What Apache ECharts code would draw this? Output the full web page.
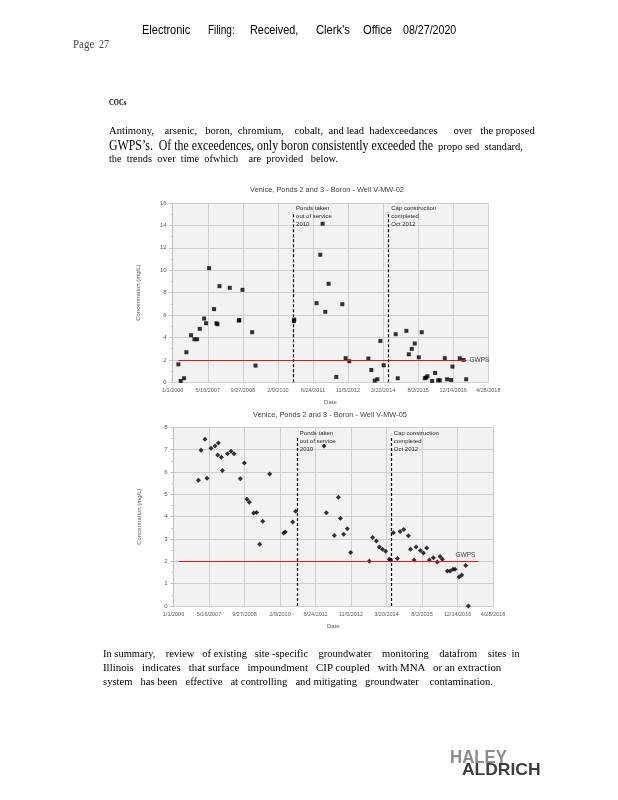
<!DOCTYPE html>
<html>
<head>
<meta charset="utf-8">
<script src="https://cdn.jsdelivr.net/npm/echarts@6/dist/echarts.min.js"></script>
<style>
  html, body { margin: 0; padding: 0; background: #fff; }
  body { width: 618px; height: 800px; position: relative; overflow: hidden; }
  #chart { position: absolute; left: 0; top: 0; width: 618px; height: 800px; }
  .t { position: absolute; white-space: pre; line-height: 1; transform-origin: 0 50%; }
</style>
</head>
<body>
<div id="chart"></div>
<script>
// ---------------- data ----------------
const axisStart = '2006-01-01';
const tickDays = 500;
const tickCount = 9;
const gwps = 2;

const mw02Title = 'Venice, Ponds 2 and 3 - Boron - Well V-MW-02';
const mw02Dates = ['2006-03-23','2006-04-25','2006-06-12','2006-07-15','2006-09-20','2006-11-07','2006-12-15',
  '2007-01-22','2007-03-25','2007-04-22','2007-06-04','2007-08-14','2007-09-17','2007-10-01','2007-10-30',
  '2008-03-25','2008-08-01','2008-08-08','2008-09-22','2009-02-07','2009-03-27','2010-09-25','2010-09-30',
  '2011-08-15','2011-10-07','2011-11-09','2011-12-17','2012-02-03','2012-05-22','2012-08-16','2012-10-03',
  '2012-11-24','2013-08-23','2013-10-04','2013-11-21','2013-12-29','2014-02-10','2014-03-30','2014-09-17',
  '2014-10-16','2015-02-16','2015-03-22','2015-05-04','2015-06-15','2015-08-12','2015-09-23','2015-11-05',
  '2015-11-24','2015-12-13','2016-02-18','2016-04-01','2016-05-14','2016-06-07','2016-08-17','2016-09-19',
  '2016-11-15','2016-12-04','2017-03-19','2017-05-11','2017-06-18'];
const mw02Boron = [1.6,0.12,0.36,2.68,4.2,3.84,3.84,
  4.77,5.69,5.27,10.19,6.53,5.27,5.18,8.58,
  8.43,5.51,5.55,8.25,4.47,1.49,5.45,5.6,
  7.06,11.38,14.15,6.29,8.79,0.48,6.97,2.15,
  1.88,2.12,1.1,0.15,0.27,3.69,1.52,4.29,
  0.36,4.59,2.5,2.98,3.46,2.23,4.47,0.36,
  0.42,0.54,0.12,0.83,0.18,0.18,2.15,0.27,
  0.21,1.4,2.15,2.0,0.27];
const mw02Gwps = ['2006-03-23','2017-06-22'];
const mw02Events = ['2010-09-21','2014-06-09'];

const mw05Title = 'Venice, Ponds 2 and 3 - Boron - Well V-MW-05';
const mw05Dates = ['2006-12-17','2007-01-23','2007-03-21','2007-04-18','2007-06-13','2007-08-09','2007-09-15',
  '2007-09-25','2007-11-06','2007-11-20','2008-01-30','2008-03-21','2008-05-02','2008-07-30','2008-09-25',
  '2008-11-01','2008-12-04','2009-02-03','2009-03-17','2009-04-29','2009-06-10','2009-09-17','2010-04-02',
  '2010-04-25','2010-08-07','2010-09-17','2011-10-22','2011-11-24','2012-03-16','2012-05-11','2012-06-08',
  '2012-07-25','2012-09-14','2012-10-31','2013-07-21','2013-09-06','2013-10-28','2013-12-09','2014-01-21',
  '2014-03-08','2014-04-29','2014-05-18','2014-06-25','2014-08-20','2014-09-27','2014-11-18','2015-01-22',
  '2015-02-20','2015-04-12','2015-05-10','2015-07-10','2015-08-22','2015-10-07','2015-11-14','2016-01-09',
  '2016-03-05','2016-04-12','2016-05-15','2016-07-24','2016-08-31','2016-10-12','2016-11-09','2017-01-04',
  '2017-02-11','2017-04-09','2017-05-16'];
const mw05Boron = [5.63,6.97,7.46,5.72,7.06,7.16,6.76,
  7.3,6.66,6.07,6.82,6.93,6.82,5.7,6.4,
  4.78,4.64,4.16,4.19,2.76,3.79,5.91,3.27,
  3.31,3.76,4.24,7.16,4.18,3.16,4.87,3.93,
  3.21,3.46,2.4,2.0,3.07,2.91,2.64,2.54,
  2.45,2.09,2.06,3.28,2.13,3.33,3.43,3.15,
  2.54,2.06,2.64,2.48,2.37,2.6,2.06,2.16,
  1.97,2.22,2.09,1.57,1.57,1.64,1.64,1.3,
  1.39,1.81,0.0];
const mw05Gwps = ['2006-03-20','2017-10-04'];
const mw05Events = ['2010-10-11','2014-05-27'];

const eventLabels = ['Ponds taken\nout of service\n2010', 'Cap construction\ncompleted\nOct 2012'];

// ---------------- page text ----------------
const SERIF = "'Liberation Serif', 'Times New Roman', serif";
const SANS = "'Liberation Sans', Arial, sans-serif";
const pageTexts = [
  {s:'Electronic', x:141.7, y:28.3, fs:13, ff:SANS, w:48.3},
  {s:'Filing:', x:208.3, y:28.3, fs:13, ff:SANS, w:26.7},
  {s:'Received,', x:250, y:28.3, fs:13, ff:SANS, w:48.3},
  {s:"Clerk's", x:316, y:28.3, fs:13, ff:SANS, w:34},
  {s:'Office', x:363, y:28.3, fs:13, ff:SANS, w:29},
  {s:'08/27/2020', x:403.3, y:28.3, fs:13, ff:SANS, w:53.3},
  {s:'Page', x:72.7, y:43.3, fs:12, ff:SERIF, w:21.3, c:'#444'},
  {s:'27', x:99.3, y:43.3, fs:12, ff:SERIF, w:10, c:'#444'},
  {s:'COCs', x:109.3, y:101.7, fs:9, ff:SERIF, w:17.3, wt:'bold'},
  {s:'Antimony,    arsenic,   boron,  chromium,    cobalt,  and lead  hadexceedances      over   the proposed', x:109.3, y:129.5, fs:11, ff:SERIF, w:425.7},
  {s:'GWPS\u2019s.  Of the exceedences, only boron consistently exceeded the', x:109.3, y:145, fs:14, ff:SERIF, w:324},
  {s:'propo sed  standard,', x:438.3, y:145, fs:11, ff:SERIF, w:85},
  {s:'the  trends  over  time  ofwhich    are  provided   below.', x:109.3, y:157.7, fs:11, ff:SERIF, w:229},
  {s:'In summary,    review   of existing   site -specific    groundwater    monitoring    datafrom    sites  in', x:103.3, y:652.7, fs:11, ff:SERIF, w:416.7},
  {s:'Illinois   indicates   that surface   impoundment   CIP coupled   with MNA   or an extraction', x:103.3, y:666, fs:11, ff:SERIF, w:398.3},
  {s:'system   has been   effective   at controlling   and mitigating   groundwater    contamination.', x:103.3, y:680, fs:11, ff:SERIF, w:390},
  {s:'HALEY', x:450, y:755.5, fs:18, ff:SANS, w:57, c:'#8c8c8c', wt:'bold'},
  {s:'ALDRICH', x:461.5, y:768, fs:17, ff:SANS, w:78.5, c:'#3d3d3d', wt:'bold'}
];
pageTexts.forEach(t => {
  const el = document.createElement('div');
  el.className = 't';
  el.textContent = t.s;
  el.style.left = t.x + 'px';
  el.style.top = (t.y - t.fs / 2) + 'px';
  el.style.font = (t.wt || 'normal') + ' ' + t.fs + 'px ' + t.ff;
  el.style.color = t.c || '#000';
  document.body.appendChild(el);
  const w = el.getBoundingClientRect().width;
  el.style.transform = 'scaleX(' + (t.w / w) + ')';
});

// ---------------- chart ----------------
const DAY = 86400000;
const t0 = Date.parse(axisStart);
const toDay = s => (Date.parse(s) - t0) / DAY;
const fmtDate = v => {
  const d = new Date(t0 + v * DAY);
  return (d.getUTCMonth() + 1) + '/' + d.getUTCDate() + '/' + d.getUTCFullYear();
};
const FONT = "'Liberation Sans', Arial, sans-serif";
const grey = '#595959';

function xAxisCfg(gi) {
  return {
    type: 'value', gridIndex: gi, min: 0, max: tickDays * tickCount, interval: tickDays,
    name: 'Date', nameLocation: 'middle', nameGap: 17,
    nameTextStyle: {fontSize: 6, color: grey, fontFamily: FONT},
    axisLabel: {formatter: fmtDate, fontSize: 5.5, color: grey, margin: 5, fontFamily: FONT},
    axisLine: {show: true, lineStyle: {color: '#d0d0d0', width: 1}},
    axisTick: {show: false},
    splitLine: {show: true, lineStyle: {color: '#d0d0d0', width: 1}}
  };
}
function yAxisCfg(gi, max, interval) {
  return {
    type: 'value', gridIndex: gi, min: 0, max: max, interval: interval,
    name: 'Concentration (mg/L)', nameLocation: 'middle', nameGap: 31, nameRotate: 90,
    nameTextStyle: {fontSize: 6, color: grey, fontFamily: FONT},
    axisLabel: {fontSize: 6, color: grey, margin: 6, fontFamily: FONT},
    axisLine: {show: true, lineStyle: {color: '#bfbfbf', width: 1}},
    axisTick: {show: true, inside: false, length: 3, lineStyle: {color: '#bfbfbf'}},
    minorTick: {show: true, splitNumber: 2, length: 2, lineStyle: {color: '#bfbfbf'}},
    splitLine: {show: true, lineStyle: {color: '#d0d0d0', width: 1}}
  };
}
function seriesCfg(gi, dates, vals, symbol, size, gw, events, lineTop, textTop, gwLabelPos) {
  return {
    type: 'scatter', xAxisIndex: gi, yAxisIndex: gi,
    symbol: symbol, symbolSize: size,
    itemStyle: {color: '#000'},
    data: dates.map((d, k) => [toDay(d), vals[k]]),
    markLine: {
      silent: true, symbol: ['none', 'none'], animation: false,
      data: [
        [{coord: [toDay(gw[0]), gwps], lineStyle: {color: '#e8141b', type: 'solid', width: 1.2},
          label: {show: true, formatter: 'GWPS', position: gwLabelPos, fontSize: 6.5, color: '#404040', fontFamily: FONT, distance: 3}},
         {coord: [toDay(gw[1]), gwps]}],
        [{coord: [toDay(events[0]), 0], lineStyle: {color: '#000', type: [3, 2], width: 1.2}, label: {show: false}},
         {coord: [toDay(events[0]), lineTop]}],
        [{coord: [toDay(events[1]), 0], lineStyle: {color: '#000', type: [3, 2], width: 1.2}, label: {show: false}},
         {coord: [toDay(events[1]), lineTop]}]
      ]
    },
    markPoint: {
      silent: true, animation: false, symbol: 'rect', symbolSize: 1,
      itemStyle: {color: 'rgba(0,0,0,0)'},
      label: {show: true, position: [3, 0], align: 'left', verticalAlign: 'top',
        fontSize: 6, lineHeight: 8, color: '#262626', fontFamily: FONT},
      data: events.map((e, k) => ({coord: [toDay(e), textTop], label: {formatter: eventLabels[k]}}))
    }
  };
}

const chart = echarts.init(document.getElementById('chart'), null, {renderer: 'canvas'});
chart.setOption({
  animation: false,
  backgroundColor: 'transparent',
  textStyle: {fontFamily: FONT},
  title: [
    {text: mw02Title, left: 327, top: 186, textAlign: 'center', padding: 0,
     textStyle: {fontSize: 7.4, fontWeight: 'normal', color: '#404040', fontFamily: FONT}},
    {text: mw05Title, left: 330, top: 411, textAlign: 'center', padding: 0,
     textStyle: {fontSize: 7.4, fontWeight: 'normal', color: '#404040', fontFamily: FONT}}
  ],
  grid: [
    {left: 172.7, top: 203, width: 315.5, height: 179.3, show: true, backgroundColor: '#f2f2f2', borderWidth: 0},
    {left: 173.5, top: 427.3, width: 319.5, height: 178.7, show: true, backgroundColor: '#f2f2f2', borderWidth: 0}
  ],
  xAxis: [xAxisCfg(0), xAxisCfg(1)],
  yAxis: [yAxisCfg(0, 16, 2), yAxisCfg(1, 8, 1)],
  series: [
    seriesCfg(0, mw02Dates, mw02Boron, 'rect', 4, mw02Gwps, mw02Events, 15.2, 15.85, 'end'),
    seriesCfg(1, mw05Dates, mw05Boron, 'diamond', 5, mw05Gwps, mw05Events, 7.6, 7.9, 'insideEndTop')
  ]
});
</script>
</body>
</html>
